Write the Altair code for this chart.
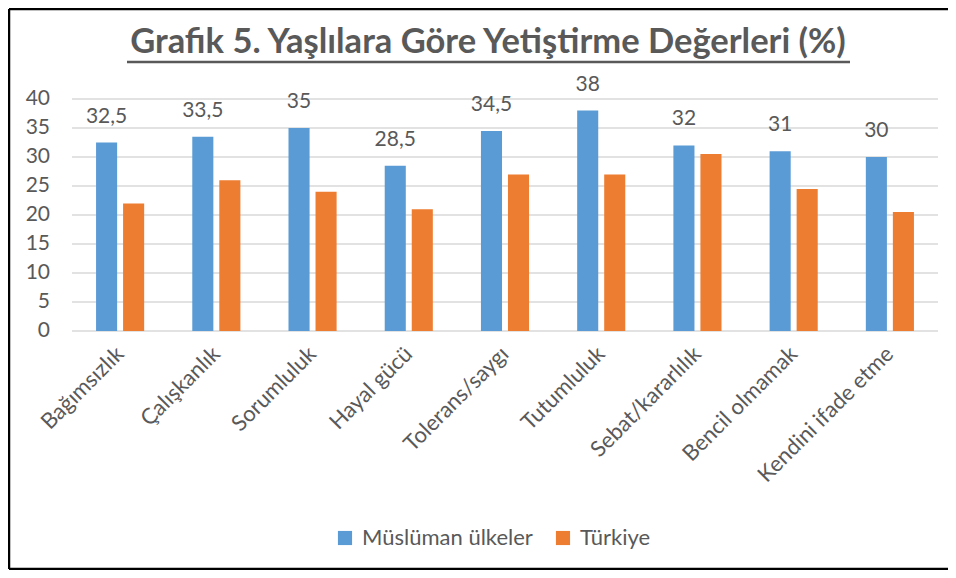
import altair as alt
import pandas as pd

categories = ["Bağımsızlık", "Çalışkanlık", "Sorumluluk", "Hayal gücü", "Tolerans/saygı",
              "Tutumluluk", "Sebat/kararlılık", "Bencil olmamak", "Kendini ifade etme"]
series = ["Müslüman ülkeler", "Türkiye"]
muslim = [32.5, 33.5, 35, 28.5, 34.5, 38, 32, 31, 30]
turkiye = [22, 26, 24, 21, 27, 27, 30.5, 24.5, 20.5]
y_ticks = [0, 5, 10, 15, 20, 25, 30, 35, 40]
colors = ["#5B9BD5", "#ED7D31"]
title_text = "Grafik 5. Yaşlılara Göre Yetiştirme Değerleri (%)"

rows = []
for c, m, t in zip(categories, muslim, turkiye):
    rows.append({"kategori": c, "seri": series[0], "deger": m,
                 "etiket": (f"{m:g}").replace(".", ",")})
    rows.append({"kategori": c, "seri": series[1], "deger": t,
                 "etiket": (f"{t:g}").replace(".", ",")})
df = pd.DataFrame(rows)
tick_df = pd.DataFrame({"deger": y_ticks, "lbl": [str(v) for v in y_ticks]})

FONT = "Lato"
TXT = "#595959"
W, H = 866, 232

x_enc = alt.X("kategori:N", sort=categories, title=None,
              scale=alt.Scale(paddingInner=0.5, paddingOuter=0.25),
              axis=alt.Axis(labelAngle=-45, labelAlign="right", labelBaseline="middle",
                            labelPadding=19, labelFontSize=22, labelColor=TXT, labelFont=FONT,
                            labelLimit=400, ticks=False, domain=False, grid=False,
                            labelOverlap=False))
xo_enc = alt.XOffset("seri:N", sort=series,
                     scale=alt.Scale(domain=series, paddingInner=0.22, paddingOuter=0))
y_scale = alt.Scale(domain=[0, 40], nice=False, zero=True)
y_enc = alt.Y("deger:Q", title=None, scale=y_scale, axis=None)
color_enc = alt.Color("seri:N", sort=series,
                      scale=alt.Scale(domain=series, range=colors),
                      legend=alt.Legend(title=None, orient="none", direction="horizontal",
                                        legendX=262, legendY=428, symbolType="square",
                                        symbolSize=200, symbolStrokeWidth=0, labelLimit=400,
                                        labelFontSize=22, labelColor=TXT, labelFont=FONT,
                                        columnPadding=19, labelOffset=6))

grid = alt.Chart(tick_df).mark_rule(color="#D9D9D9", strokeWidth=1.3).encode(
    y=y_enc, x=alt.value(0), x2=alt.value(W)
)
ylabels = alt.Chart(tick_df).mark_text(align="right", baseline="middle", fontSize=21,
                                       color=TXT, font=FONT).encode(
    y=y_enc, x=alt.value(-22), text="lbl:N"
)

bars = alt.Chart(df).mark_bar().encode(
    x=x_enc, xOffset=xo_enc, y=y_enc, color=color_enc
)

labels = alt.Chart(df).transform_filter(
    alt.datum.seri == series[0]
).mark_text(dy=-26, fontSize=21, color=TXT, font=FONT, baseline="middle").encode(
    x=x_enc, xOffset=xo_enc, y=y_enc, text="etiket:N"
)

title_df = pd.DataFrame({"t": [title_text]})
title = alt.Chart(title_df).mark_text(fontSize=34.5, fontWeight="bold", color=TXT, font=FONT,
                                      baseline="alphabetic", align="center").encode(
    x=alt.value(416), y=alt.value(-46), text="t:N"
)
underline = alt.Chart(title_df).mark_rule(color=TXT, strokeWidth=2.5).encode(
    x=alt.value(55), x2=alt.value(778), y=alt.value(-37)
)
b_left = alt.Chart(title_df).mark_rule(color="#000000", strokeWidth=2.5).encode(
    x=alt.value(-63), y=alt.value(-90), y2=alt.value(470)
)
b_top = alt.Chart(title_df).mark_rule(color="#000000", strokeWidth=2.5).encode(
    x=alt.value(-63), x2=alt.value(W + 10), y=alt.value(-90)
)
b_bottom = alt.Chart(title_df).mark_rule(color="#000000", strokeWidth=2.5).encode(
    x=alt.value(-63), x2=alt.value(W + 10), y=alt.value(470)
)

chart = alt.layer(b_left, b_top, b_bottom, grid, ylabels, bars, labels, title, underline).properties(
    width=W, height=H,
    autosize=alt.AutoSizeParams(type="none"),
    padding={"left": 64, "top": 91, "right": 10, "bottom": 239},
    background="white",
).configure_view(stroke=None)

chart.save("out.html", embed_options={"renderer": "svg", "actions": False})
